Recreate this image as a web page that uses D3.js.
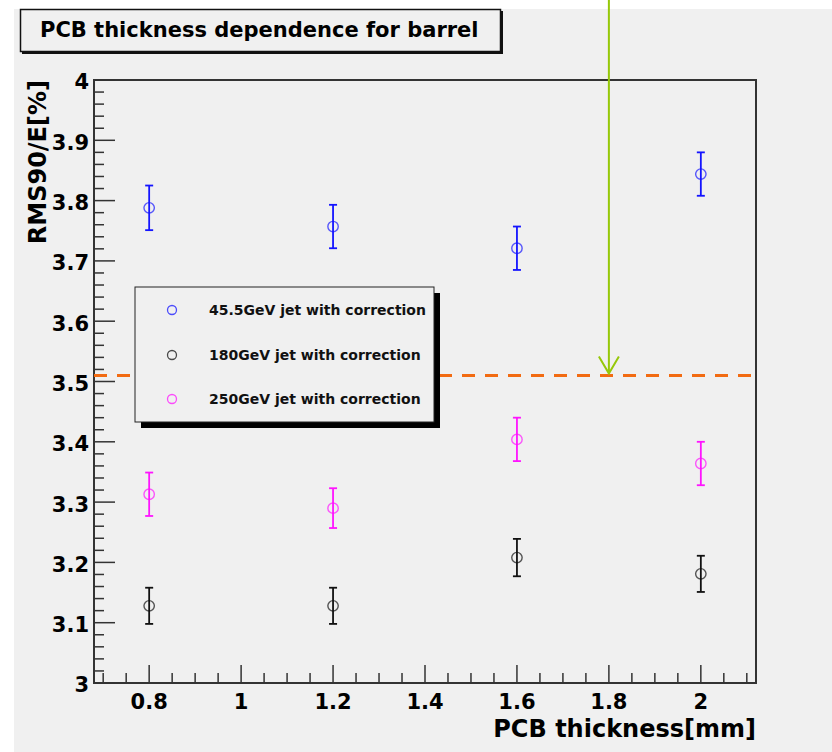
<!DOCTYPE html>
<html>
<head>
<meta charset="utf-8">
<script src="https://cdn.jsdelivr.net/npm/d3@7"></script>
<style>
  html, body { margin: 0; padding: 0; background: #fff; }
  svg { display: block; font-family: "DejaVu Sans", sans-serif; font-weight: bold; }
</style>
</head>
<body>
<div id="chart"></div>
<script>
// Data
const thickness = [0.8, 1.2, 1.6, 2.0];
const jet45 = [3.788, 3.757, 3.721, 3.844];
const jet45Err = [0.037, 0.036, 0.036, 0.036];
const jet180 = [3.128, 3.128, 3.208, 3.181];
const jet180Err = [0.030, 0.030, 0.031, 0.030];
const jet250 = [3.313, 3.290, 3.404, 3.364];
const jet250Err = [0.036, 0.033, 0.036, 0.036];
const seriesNames = ["45.5GeV jet with correction", "180GeV jet with correction", "250GeV jet with correction"];
const seriesColors = ["#1414ff", "#111111", "#ff14ff"];
const targetLevel = 3.51; // dashed orange line
const arrowAt = 1.8;      // green arrow position

// Layout
const width = 832;
const height = 752;
const marginTop = 80;
const marginRight = 76;
const marginBottom = 69;
const marginLeft = 94;
const bg = "#f0f0f0";

const x = d3.scaleLinear([0.68, 2.12], [marginLeft, width - marginRight]);
const y = d3.scaleLinear([3, 4], [height - marginBottom, marginTop]);

const svg = d3.create("svg")
  .attr("width", width)
  .attr("height", height)
  .attr("viewBox", [0, 0, width, height]);

d3.select("#chart").node().appendChild(svg.node());

// Canvas background
svg.append("rect")
  .attr("x", 14).attr("y", 9)
  .attr("width", width - 14).attr("height", height - 9)
  .attr("fill", bg);

// Frame
const x0 = x.range()[0], x1 = x.range()[1];
const y0 = y.range()[0], y1 = y.range()[1];
svg.append("rect")
  .attr("x", x0).attr("y", y1)
  .attr("width", x1 - x0).attr("height", y0 - y1)
  .attr("fill", "none")
  .attr("stroke", "#333")
  .attr("stroke-width", 2);

// Ticks (inside, ROOT style)
const tickG = svg.append("g").attr("stroke", "#333").attr("stroke-width", 1.5);
const yMinor = d3.range(3, 4.0001, 0.02);
tickG.selectAll(".ym").data(yMinor).join("line")
  .attr("x1", x0).attr("x2", (d, i) => x0 + (i % 5 === 0 ? 21 : 10))
  .attr("y1", d => y(d)).attr("y2", d => y(d));
const xMinor = d3.range(0.70, 2.12, 0.05);
tickG.selectAll(".xm").data(xMinor).join("line")
  .attr("x1", d => x(d)).attr("x2", d => x(d))
  .attr("y1", y0)
  .attr("y2", d => y0 - (Math.abs(d * 5 - Math.round(d * 5)) < 1e-6 ? 18 : 10));

// Tick labels
const yTicks = d3.range(3, 4.0001, 0.1);
svg.append("g")
  .attr("font-size", 21)
  .attr("text-anchor", "end")
  .selectAll("text").data(yTicks).join("text")
  .attr("x", x0 - 5)
  .attr("y", d => y(d))
  .attr("dy", "0.45em")
  .text(d => d3.format("~g")(+d.toFixed(1)));

const xTicks = d3.range(0.8, 2.01, 0.2);
svg.append("g")
  .attr("font-size", 21)
  .attr("text-anchor", "middle")
  .selectAll("text").data(xTicks).join("text")
  .attr("x", d => x(d))
  .attr("y", 709)
  .text(d => d3.format("~g")(+d.toFixed(1)));

// Axis titles
svg.append("text")
  .attr("font-size", 24)
  .attr("text-anchor", "end")
  .attr("x", x1).attr("y", 737)
  .text("PCB thickness[mm]");

svg.append("text")
  .attr("font-size", 24)
  .attr("text-anchor", "end")
  .attr("transform", "translate(46,80) rotate(-90)")
  .text("RMS90/E[%]");

// Title box
svg.append("rect")
  .attr("x", 22).attr("y", 11).attr("width", 481).attr("height", 43)
  .attr("fill", "#111");
svg.append("rect")
  .attr("x", 20.5).attr("y", 9.5).attr("width", 480).attr("height", 42)
  .attr("fill", bg).attr("stroke", "#111").attr("stroke-width", 1.5);
svg.append("text")
  .attr("font-size", 21)
  .attr("x", 40).attr("y", 37)
  .text("PCB thickness dependence for barrel");

// Dashed reference line (legend is drawn over it)
svg.append("line")
  .attr("x1", x0).attr("x2", x1)
  .attr("y1", y(targetLevel)).attr("y2", y(targetLevel))
  .attr("stroke", "#f26b12")
  .attr("stroke-width", 3)
  .attr("stroke-dasharray", "13 10");

// Legend
const legX = 135, legY = 287, legW = 299, legH = 135;
svg.append("rect")
  .attr("x", legX + 6).attr("y", legY + 6).attr("width", legW).attr("height", legH)
  .attr("fill", "#000");
svg.append("rect")
  .attr("x", legX).attr("y", legY).attr("width", legW).attr("height", legH)
  .attr("fill", bg).attr("stroke", "#222").attr("stroke-width", 1);
const legRows = [310, 355, 399];
const leg = svg.append("g").selectAll("g").data(seriesNames).join("g")
  .attr("transform", (d, i) => `translate(0,${legRows[i]})`);
leg.append("circle")
  .attr("cx", 172).attr("cy", 0).attr("r", 4.5)
  .attr("fill", "none")
  .attr("stroke", (d, i) => seriesColors[i])
  .attr("stroke-opacity", 0.75)
  .attr("stroke-width", 1.3);
leg.append("text")
  .attr("x", 209).attr("y", 5)
  .attr("font-size", 14)
  .attr("fill", "#111")
  .text(d => d);

// Data points with error bars
const series = [
  {values: jet45, errors: jet45Err, color: seriesColors[0]},
  {values: jet180, errors: jet180Err, color: seriesColors[1]},
  {values: jet250, errors: jet250Err, color: seriesColors[2]}
];
const pts = series.flatMap(s => thickness.map((t, i) => ({
  t, v: s.values[i], e: s.errors[i], color: s.color
})));
const pg = svg.append("g").selectAll("g").data(pts).join("g")
  .attr("stroke", d => d.color)
  .attr("fill", "none");
pg.append("line")
  .attr("x1", d => x(d.t)).attr("x2", d => x(d.t))
  .attr("y1", d => y(d.v + d.e)).attr("y2", d => y(d.v - d.e))
  .attr("stroke-width", 1.8);
pg.append("line")
  .attr("x1", d => x(d.t) - 4).attr("x2", d => x(d.t) + 4)
  .attr("y1", d => y(d.v + d.e)).attr("y2", d => y(d.v + d.e))
  .attr("stroke-width", 1.8);
pg.append("line")
  .attr("x1", d => x(d.t) - 4).attr("x2", d => x(d.t) + 4)
  .attr("y1", d => y(d.v - d.e)).attr("y2", d => y(d.v - d.e))
  .attr("stroke-width", 1.8);
pg.append("circle")
  .attr("cx", d => x(d.t)).attr("cy", d => y(d.v))
  .attr("r", 5.2)
  .attr("fill", "none")
  .attr("stroke-opacity", 0.7)
  .attr("stroke-width", 1.4);

// Green arrow
const ax = x(arrowAt), ay = y(targetLevel) - 2;
svg.append("path")
  .attr("d", `M${ax},0V${ay}M${ax - 10},${ay - 17}L${ax},${ay}L${ax + 10},${ay - 17}`)
  .attr("fill", "none")
  .attr("stroke", "#96c80a")
  .attr("stroke-width", 2);
</script>
</body>
</html>
